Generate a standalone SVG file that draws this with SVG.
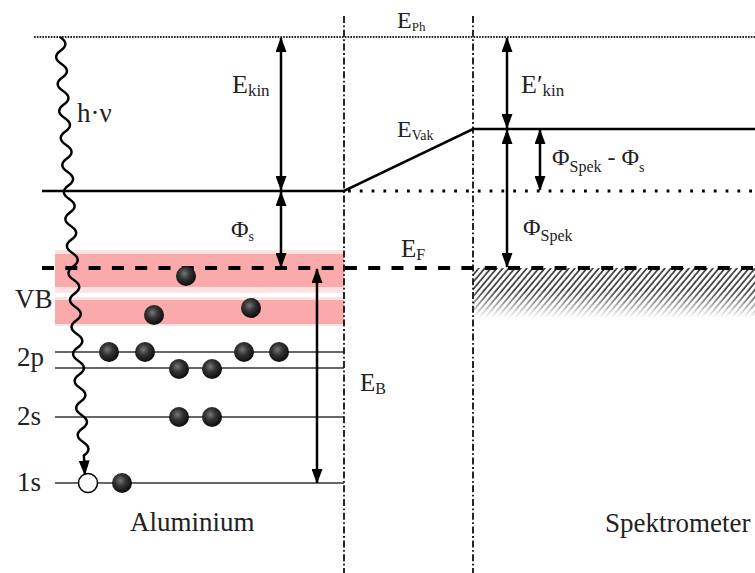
<svg xmlns="http://www.w3.org/2000/svg" width="755" height="573" viewBox="0 0 755 573" font-family="'Liberation Serif','Times New Roman',serif">
<style>
text{font-family:"Liberation Serif","Times New Roman",serif;fill:#222}
.lbl{font-size:27px}
.lvl{stroke:#333;stroke-width:1.5;fill:none}
.thick{stroke:#000;stroke-width:2.5;fill:none}
.arr{stroke:#000;stroke-width:2.5;fill:none;marker-start:url(#ah);marker-end:url(#ah)}
.ddot{stroke:#111;stroke-width:1.8;stroke-dasharray:7 2.5 1.8 2.5;fill:none}
</style>
<defs>
<marker id="ah" markerUnits="userSpaceOnUse" markerWidth="15" markerHeight="11" refX="14" refY="5.5" orient="auto-start-reverse" viewBox="0 0 15 11">
<path d="M0,0 L15,5.5 L0,11 z" fill="#000"/>
</marker>
<radialGradient id="ball" cx="0.42" cy="0.38" r="0.62">
<stop offset="0" stop-color="#777"/>
<stop offset="0.45" stop-color="#333"/>
<stop offset="1" stop-color="#0c0c0c"/>
</radialGradient>
<pattern id="hatch" patternUnits="userSpaceOnUse" width="4.6" height="10" patternTransform="rotate(40)">
<line x1="1" y1="0" x2="1" y2="10" stroke="#222" stroke-width="1.5"/>
</pattern>
<linearGradient id="fade" x1="0" y1="0" x2="0" y2="1">
<stop offset="0" stop-color="#fff"/>
<stop offset="0.45" stop-color="#fff"/>
<stop offset="1" stop-color="#000"/>
</linearGradient>
<mask id="hm" maskUnits="userSpaceOnUse" x="473" y="268" width="282" height="50">
<rect x="473" y="268" width="282" height="50" fill="url(#fade)"/>
</mask>
<circle id="el" r="10" fill="url(#ball)"/>
</defs>
<rect width="755" height="573" fill="#fff"/>

<g id="bands">
<rect x="55" y="250" width="289" height="43" fill="#fde3e3"/>
<rect x="55" y="254" width="289" height="33" fill="#fbaaab"/>
<rect x="55" y="297" width="289" height="29" fill="#fde3e3"/>
<rect x="55" y="300" width="289" height="24" fill="#fbaaab"/>
</g>

<g id="hatching">
<rect x="473" y="268" width="282" height="50" fill="url(#hatch)" mask="url(#hm)"/>
</g>

<g id="levels">
<line class="lvl" x1="55" y1="352" x2="344" y2="352"/>
<line class="lvl" x1="55" y1="368" x2="344" y2="368"/>
<line class="lvl" x1="55" y1="417" x2="344" y2="417"/>
<line class="lvl" x1="55" y1="483" x2="344" y2="483"/>
</g>

<g id="reference-lines">
<line x1="34" y1="37" x2="755" y2="37" stroke="#222" stroke-width="1.8" stroke-dasharray="1.6 1.2"/>
<line class="ddot" x1="344" y1="16" x2="344" y2="573"/>
<line class="ddot" x1="473" y1="16" x2="473" y2="573"/>
<line x1="348" y1="191" x2="755" y2="191" stroke="#000" stroke-width="2.8" stroke-dasharray="2.8 9" />
<polyline class="thick" points="42,191 344,191 473,129 755,129"/>
<line x1="42" y1="268" x2="755" y2="268" stroke="#000" stroke-width="4" stroke-dasharray="12 11.3"/>
</g>

<g id="electrons">
<use href="#el" x="186" y="276"/>
<use href="#el" x="154" y="315"/>
<use href="#el" x="251" y="308"/>
<use href="#el" x="109" y="352"/>
<use href="#el" x="145" y="352"/>
<use href="#el" x="244" y="352"/>
<use href="#el" x="279" y="352"/>
<use href="#el" x="179" y="369"/>
<use href="#el" x="212" y="369"/>
<use href="#el" x="179" y="417"/>
<use href="#el" x="212" y="417"/>
<use href="#el" x="122" y="483"/>
<circle id="hole" cx="88" cy="483" r="9.5" fill="#fff" stroke="#000" stroke-width="1.5"/>
</g>

<g id="connectors">
<path id="photon" d="M60 37 q10.39 6.75 0.77 13.5 t0.77 13.5 t0.77 13.5 t0.77 13.5 t0.77 13.5 t0.77 13.5 t0.77 13.5 t0.77 13.5 t0.77 13.5 t0.77 13.5 t0.77 13.5 t0.77 13.5 t0.77 13.5 t0.77 13.5 t0.77 13.5 t0.77 13.5 t0.77 13.5 t0.77 13.5 t0.77 13.5 t0.77 13.5 t0.77 13.5 t0.77 13.5 t0.77 13.5 t0.77 13.5 t0.77 13.5 t0.77 13.5 t0.77 13.5 t0.77 13.5 t0.77 13.5 t0.77 13.5 t0.77 13.5 l1 19" fill="none" stroke="#000" stroke-width="2.5" marker-end="url(#ah)"/>
<line class="arr" x1="281" y1="38" x2="281" y2="190"/>
<line class="arr" x1="281" y1="192" x2="281" y2="267"/>
<line class="arr" x1="317" y1="269" x2="317" y2="483"/>
<line class="arr" x1="507" y1="38" x2="507" y2="128"/>
<line class="arr" x1="507" y1="130" x2="507" y2="267"/>
<line class="arr" x1="540" y1="130" x2="540" y2="190"/>
</g>

<g id="labels">
<text x="397" y="28" font-size="24">E<tspan font-size="13" dy="3">Ph</tspan></text>
<text x="232" y="93" font-size="26">E<tspan font-size="17" dy="3">kin</tspan></text>
<text x="521" y="93" font-size="26">E′<tspan font-size="17" dy="3">kin</tspan></text>
<text x="397" y="137" font-size="24">E<tspan font-size="14" dy="3">Vak</tspan></text>
<text x="77" y="122" font-size="27">h·ν</text>
<text x="231" y="237" font-size="24">Φ<tspan font-size="14" dy="4">s</tspan></text>
<text x="552" y="165" font-size="24">Φ<tspan font-size="16" dy="7">Spek</tspan><tspan dy="-7"> - Φ</tspan><tspan font-size="14" dy="7">s</tspan></text>
<text x="523" y="235" font-size="24">Φ<tspan font-size="16" dy="6">Spek</tspan></text>
<text x="401" y="257" font-size="25">E<tspan font-size="16" dy="3">F</tspan></text>
<text x="360" y="391" font-size="25">E<tspan font-size="16" dy="3">B</tspan></text>
<text class="lbl" x="15" y="308">VB</text>
<text class="lbl" x="17" y="366">2p</text>
<text class="lbl" x="17" y="425">2s</text>
<text class="lbl" x="17" y="491">1s</text>
<text class="lbl" x="130" y="531">Aluminium</text>
<text class="lbl" x="605" y="532">Spektrometer</text>
</g>
</svg>
